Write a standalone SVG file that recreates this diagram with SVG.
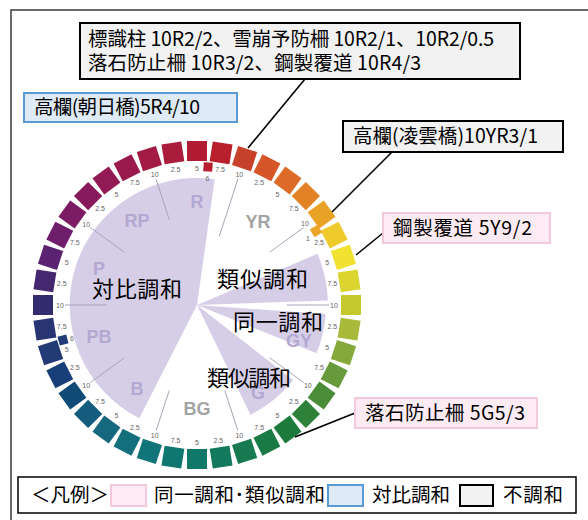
<svg xmlns="http://www.w3.org/2000/svg" width="588" height="520" viewBox="0 0 588 520">
<style>
.jp{font-family:"Noto Sans CJK JP","Noto Sans CJK SC",sans-serif;fill:#000}
.big{font-size:22px}
.cl{font-size:19.5px}
.tk{font-family:"Liberation Sans",Arial,sans-serif;font-size:7px;fill:#666;text-anchor:middle;dominant-baseline:central}
.hue{font-family:"Liberation Sans",Arial,sans-serif;font-weight:bold;font-size:18px;text-anchor:middle;dominant-baseline:central}
.hl{fill:#b2a8d1}
.hw{fill:#a3a3a3}
.sec{fill:#d6cee7}
.div{stroke:#a8a4b8;stroke-width:1}
.gray{fill:#f2f2f2;stroke:#000;stroke-width:2}
.pink{fill:#fcebf3;stroke:#f3c8dc;stroke-width:2}
.blue{fill:#deeaf6;stroke:#5b9bd5;stroke-width:2}
.con{stroke:#000;stroke-width:1.6;fill:none}
</style>
<rect width="588" height="520" fill="#fff"/>
<rect id="frame" x="11" y="10" width="620" height="560" fill="none" stroke="#3a3a3a" stroke-width="1.5"/>

<g id="sectors">
<path class="sec" d="M197,305 L139.3,418.2 A127,127 0 0 1 214.7,179.2 Z"/>
<path class="sec" d="M197,305 L317.6,253.8 A131,131 0 0 1 327.9,300.4 Z"/>
<path class="sec" d="M197,305 L325.7,314 A129,129 0 0 1 316.6,353.3 Z"/>
<path class="sec" d="M197,305 L293.1,380.1 A122,122 0 0 1 250.5,414.7 Z"/>
</g>

<g id="dividers" class="div">
<line x1="219.2" y1="236.5" x2="238.1" y2="178.5"/>
<line x1="269.8" y1="252.1" x2="303.8" y2="227.4"/>
<line x1="287" y1="305" x2="329" y2="305"/>
<line x1="269.8" y1="357.9" x2="303.8" y2="382.6"/>
<line x1="224.8" y1="390.6" x2="237.8" y2="430.5"/>
<line x1="169.2" y1="390.6" x2="156.2" y2="430.5"/>
<line x1="124.2" y1="357.9" x2="90.2" y2="382.6"/>
<line x1="107" y1="305" x2="65" y2="305"/>
<line x1="124.2" y1="252.1" x2="90.2" y2="227.4"/>
<line x1="169.2" y1="219.4" x2="156.2" y2="179.5"/>
</g>

<g id="hue-ring" transform="translate(197,305)">
<rect x="-10" y="-164" width="20" height="20" fill="#b11c33" transform="rotate(0)"/>
<rect x="-10" y="-164" width="20" height="20" fill="#b8202e" transform="rotate(9)"/>
<rect x="-10" y="-164" width="20" height="20" fill="#c7402a" transform="rotate(18)"/>
<rect x="-10" y="-164" width="20" height="20" fill="#d6562a" transform="rotate(27)"/>
<rect x="-10" y="-164" width="20" height="20" fill="#de6a27" transform="rotate(36)"/>
<rect x="-10" y="-164" width="20" height="20" fill="#e38125" transform="rotate(45)"/>
<rect x="-10" y="-164" width="20" height="20" fill="#e9a226" transform="rotate(54)"/>
<rect x="-10" y="-164" width="20" height="20" fill="#efca2d" transform="rotate(63)"/>
<rect x="-10" y="-164" width="20" height="20" fill="#f1e232" transform="rotate(72)"/>
<rect x="-10" y="-164" width="20" height="20" fill="#dcd52f" transform="rotate(81)"/>
<rect x="-10" y="-164" width="20" height="20" fill="#c6c92e" transform="rotate(90)"/>
<rect x="-10" y="-164" width="20" height="20" fill="#a9b93a" transform="rotate(99)"/>
<rect x="-10" y="-164" width="20" height="20" fill="#86a93b" transform="rotate(108)"/>
<rect x="-10" y="-164" width="20" height="20" fill="#679a3a" transform="rotate(117)"/>
<rect x="-10" y="-164" width="20" height="20" fill="#4b8c38" transform="rotate(126)"/>
<rect x="-10" y="-164" width="20" height="20" fill="#2f8039" transform="rotate(135)"/>
<rect x="-10" y="-164" width="20" height="20" fill="#1c7a3c" transform="rotate(144)"/>
<rect x="-10" y="-164" width="20" height="20" fill="#197a45" transform="rotate(153)"/>
<rect x="-10" y="-164" width="20" height="20" fill="#177a50" transform="rotate(162)"/>
<rect x="-10" y="-164" width="20" height="20" fill="#12795c" transform="rotate(171)"/>
<rect x="-10" y="-164" width="20" height="20" fill="#0f7868" transform="rotate(180)"/>
<rect x="-10" y="-164" width="20" height="20" fill="#0f7670" transform="rotate(189)"/>
<rect x="-10" y="-164" width="20" height="20" fill="#117478" transform="rotate(198)"/>
<rect x="-10" y="-164" width="20" height="20" fill="#146f7c" transform="rotate(207)"/>
<rect x="-10" y="-164" width="20" height="20" fill="#16687e" transform="rotate(216)"/>
<rect x="-10" y="-164" width="20" height="20" fill="#135c7e" transform="rotate(225)"/>
<rect x="-10" y="-164" width="20" height="20" fill="#0f4b74" transform="rotate(234)"/>
<rect x="-10" y="-164" width="20" height="20" fill="#183f78" transform="rotate(243)"/>
<rect x="-10" y="-164" width="20" height="20" fill="#223a76" transform="rotate(252)"/>
<rect x="-10" y="-164" width="20" height="20" fill="#293473" transform="rotate(261)"/>
<rect x="-10" y="-164" width="20" height="20" fill="#332c6e" transform="rotate(270)"/>
<rect x="-10" y="-164" width="20" height="20" fill="#452770" transform="rotate(279)"/>
<rect x="-10" y="-164" width="20" height="20" fill="#5a2270" transform="rotate(288)"/>
<rect x="-10" y="-164" width="20" height="20" fill="#6e1e6a" transform="rotate(297)"/>
<rect x="-10" y="-164" width="20" height="20" fill="#7c1c64" transform="rotate(306)"/>
<rect x="-10" y="-164" width="20" height="20" fill="#871a5d" transform="rotate(315)"/>
<rect x="-10" y="-164" width="20" height="20" fill="#921a55" transform="rotate(324)"/>
<rect x="-10" y="-164" width="20" height="20" fill="#9b1a4d" transform="rotate(333)"/>
<rect x="-10" y="-164" width="20" height="20" fill="#a31b45" transform="rotate(342)"/>
<rect x="-10" y="-164" width="20" height="20" fill="#ab1b3c" transform="rotate(351)"/>
</g>

<g id="sample-squares">
<rect x="203.5" y="162.5" width="9" height="9" fill="#b81f30" transform="rotate(4 208 167)"/>
<rect x="311.5" y="226.5" width="9" height="9" fill="#eba628" transform="rotate(58 316 231)"/>
<rect x="58.5" y="335.5" width="9" height="9" fill="#22397a" transform="rotate(255 63 340)"/>
</g>

<g id="ticks">
<text class="tk" x="197" y="168">5</text>
<text class="tk" x="220" y="169.7">7.5</text>
<text class="tk" x="239.3" y="174.7">10</text>
<text class="tk" x="259.2" y="182.9">2.5</text>
<text class="tk" x="277.5" y="194.2">5</text>
<text class="tk" x="293.9" y="208.1">7.5</text>
<text class="tk" x="305" y="223">10</text>
<text class="tk" x="319.1" y="242.8">2.5</text>
<text class="tk" x="327.3" y="262.7">5</text>
<text class="tk" x="332.3" y="283.6">7.5</text>
<text class="tk" x="334" y="305">10</text>
<text class="tk" x="332.3" y="326.4">2.5</text>
<text class="tk" x="327.3" y="347.3">5</text>
<text class="tk" x="319.1" y="367.2">7.5</text>
<text class="tk" x="307.8" y="385.5">10</text>
<text class="tk" x="293.9" y="401.9">2.5</text>
<text class="tk" x="277.5" y="415.8">5</text>
<text class="tk" x="259.2" y="427.1">7.5</text>
<text class="tk" x="239.3" y="435.3">10</text>
<text class="tk" x="218.4" y="440.3">2.5</text>
<text class="tk" x="197" y="442">5</text>
<text class="tk" x="175.6" y="440.3">7.5</text>
<text class="tk" x="154.7" y="435.3">10</text>
<text class="tk" x="134.8" y="427.1">2.5</text>
<text class="tk" x="116.5" y="415.8">5</text>
<text class="tk" x="100.1" y="401.9">7.5</text>
<text class="tk" x="86.2" y="385.5">10</text>
<text class="tk" x="74.9" y="367.2">2.5</text>
<text class="tk" x="66.7" y="349">5</text>
<text class="tk" x="61.7" y="326.4">7.5</text>
<text class="tk" x="60" y="305">10</text>
<text class="tk" x="61.7" y="283.6">2.5</text>
<text class="tk" x="66.7" y="262.7">5</text>
<text class="tk" x="74.9" y="242.8">7.5</text>
<text class="tk" x="86.2" y="224.5">10</text>
<text class="tk" x="100.1" y="208.1">2.5</text>
<text class="tk" x="116.5" y="194.2">5</text>
<text class="tk" x="134.8" y="182.9">7.5</text>
<text class="tk" x="154.7" y="174.7">10</text>
<text class="tk" x="175.6" y="169.7">2.5</text>
<text class="tk" x="207.5" y="178">6</text>
<text class="tk" x="308" y="238">1</text>
<text class="tk" x="72" y="338">6</text>
</g>

<g id="hue-labels">
<text class="hue hl" x="197" y="202">R</text>
<text class="hue hw" x="258" y="222">YR</text>
<text class="hue hl" x="299" y="341">GY</text>
<text class="hue hl" x="258" y="393">G</text>
<text class="hue hw" x="197" y="409">BG</text>
<text class="hue hl" x="137" y="389">B</text>
<text class="hue hl" x="99" y="337">PB</text>
<text class="hue hl" x="99" y="269">P</text>
<text class="hue hl" x="137" y="221">RP</text>
</g>

<g id="harmony-labels">
<text class="jp big" x="92" y="297" textLength="90">対比調和</text>
<text class="jp big" x="217" y="287" textLength="91">類似調和</text>
<text class="jp big" x="233" y="330" textLength="90">同一調和</text>
<text class="jp big" x="207" y="386" textLength="84">類似調和</text>
</g>

<g id="connectors" class="con">
<line x1="305" y1="79" x2="248" y2="148"/>
<line x1="392" y1="152" x2="332" y2="212"/>
<line x1="383" y1="233" x2="356" y2="255"/>
<line x1="355" y1="413" x2="295" y2="437"/>
</g>

<g id="note-top">
<rect class="gray" x="80" y="23" width="440" height="56"/>
<text class="jp cl" x="88" y="46" textLength="406">標識柱 10R2/2、雪崩予防柵 10R2/1、10R2/0.5</text>
<text class="jp cl" x="88" y="70" textLength="333">落石防止柵 10R3/2、鋼製覆道 10R4/3</text>
</g>
<g id="note-asahi">
<rect class="blue" x="24" y="93" width="213" height="29"/>
<text class="jp cl" x="34" y="114" textLength="166">高欄(朝日橋)5R4/10</text>
</g>
<g id="note-ryoun">
<rect class="gray" x="343" y="121" width="220" height="31"/>
<text class="jp cl" x="353" y="143" textLength="185">高欄(凌雲橋)10YR3/1</text>
</g>
<g id="note-kouseifukudou">
<rect class="pink" x="383" y="213" width="167" height="30"/>
<text class="jp cl" x="393" y="235" textLength="139">鋼製覆道 5Y9/2</text>
</g>
<g id="note-rakuseki">
<rect class="pink" x="355" y="398" width="182" height="30"/>
<text class="jp cl" x="365" y="420" textLength="160">落石防止柵 5G5/3</text>
</g>

<g id="legend">
<rect x="18" y="477" width="558" height="36" fill="#fff" stroke="#000" stroke-width="1.5"/>
<text class="jp cl" x="31" y="502" textLength="78">＜凡例＞</text>
<rect class="pink" x="111" y="485" width="35" height="21"/>
<text class="jp cl" x="154" y="502" textLength="171">同一調和･類似調和</text>
<rect class="blue" x="328" y="485" width="35" height="21"/>
<text class="jp cl" x="372" y="502" textLength="78">対比調和</text>
<rect class="gray" x="460" y="485" width="33" height="21"/>
<text class="jp cl" x="503" y="502" textLength="60">不調和</text>
</g>
</svg>
